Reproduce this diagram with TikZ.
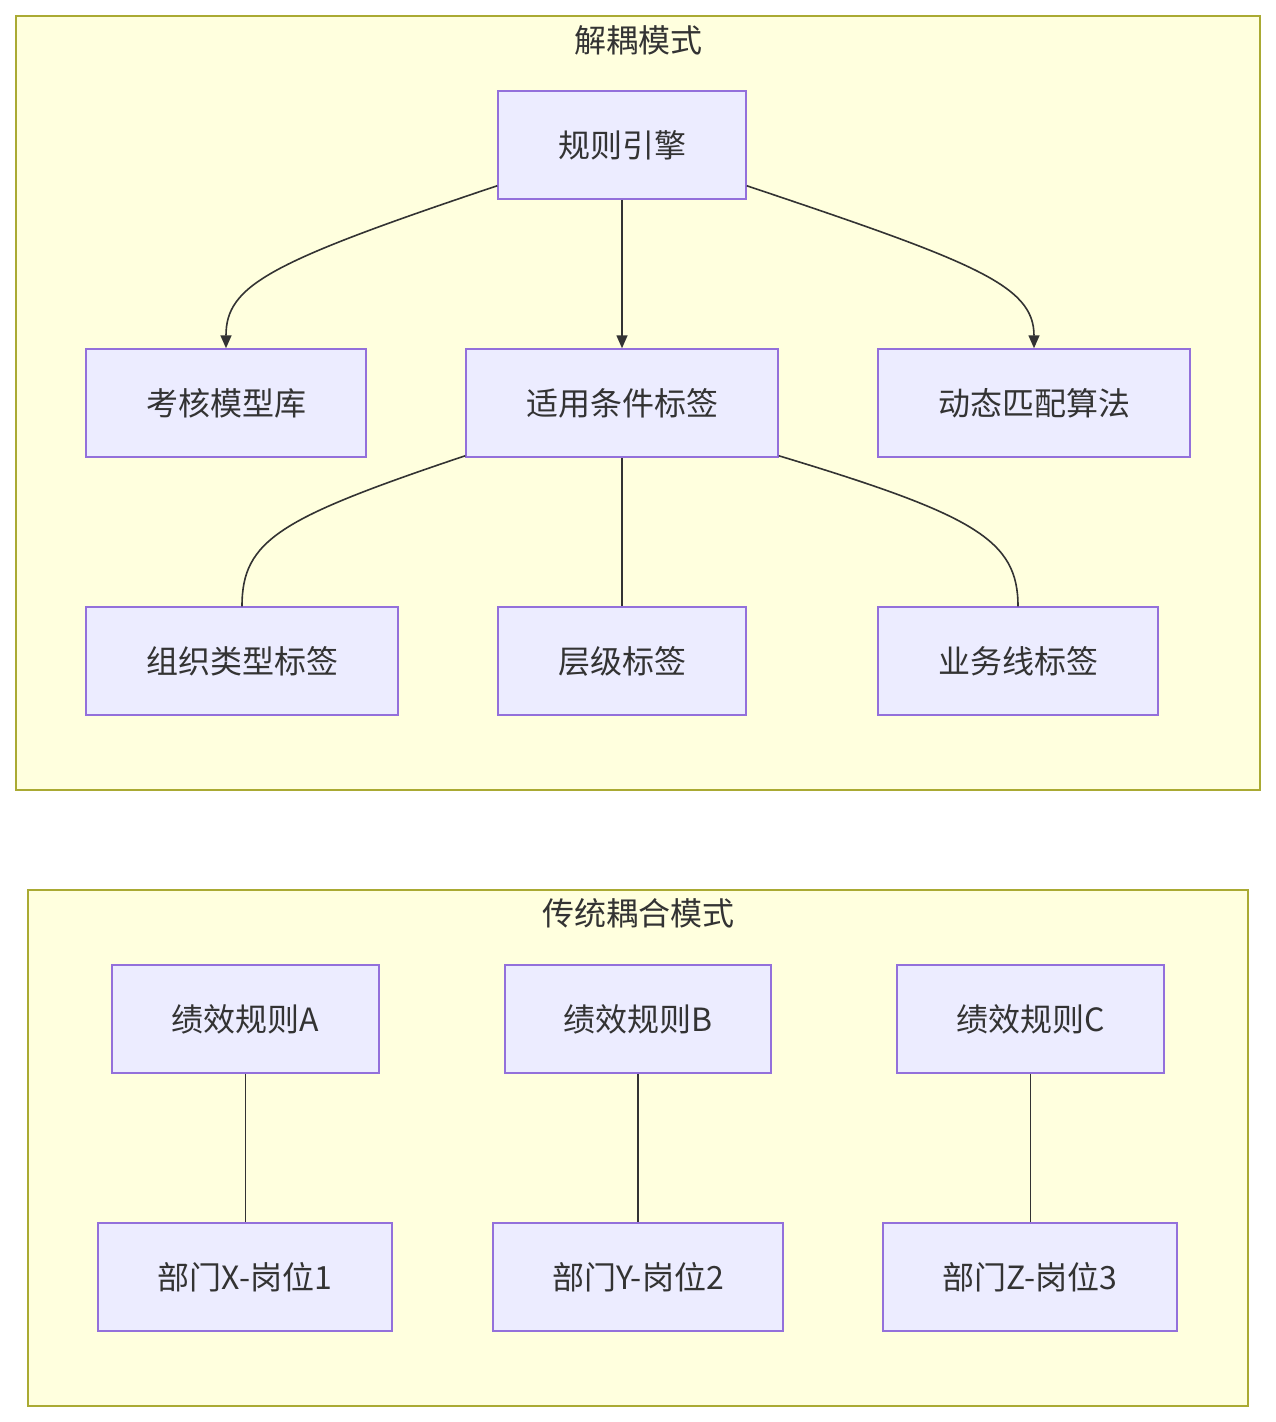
\documentclass[tikz,border=0pt]{standalone}
\usepackage{fontspec}
\setmainfont{Noto Sans CJK SC}
\usetikzlibrary{arrows.meta}
\definecolor{clfill}{HTML}{FFFFDE}
\definecolor{cldraw}{HTML}{AAAA33}
\definecolor{ndfill}{HTML}{ECECFF}
\definecolor{nddraw}{HTML}{9370DB}
\definecolor{txt}{HTML}{333333}
\begin{document}
\begin{tikzpicture}[x=1pt,y=-1pt,
  cluster/.style={draw=cldraw,fill=clfill,line width=1.5pt,inner sep=0pt},
  ctitle/.style={text=txt,font=\fontsize{32}{38}\selectfont,inner sep=0pt},
  box/.style={draw=nddraw,fill=ndfill,line width=1.5pt,inner sep=0pt,minimum height=108pt,
    text=txt,font=\fontsize{32}{38}\selectfont},
  link/.style={draw=txt,line width=1.6pt},
  arr/.style={link,-{Triangle[length=13pt,width=11pt]}}]
\useasboundingbox (0,0) rectangle (1276,1422);
\fill[white] (0,0) rectangle (1276,1422);
% clusters
\node[cluster,minimum width=1244pt,minimum height=774pt] (top) at (638,403) {};
\node[ctitle] (toptitle) at (638,40) {解耦模式};
\node[cluster,minimum width=1220pt,minimum height=516pt] (bot) at (638,1148) {};
\node[ctitle] (bottitle) at (638,913) {传统耦合模式};
% top nodes
\node[box,minimum width=248pt] (r) at (622,145) {规则引擎};
\node[box,minimum width=280pt] (m) at (226,403) {考核模型库};
\node[box,minimum width=312pt] (c) at (622,403) {适用条件标签};
\node[box,minimum width=312pt] (d) at (1034,403) {动态匹配算法};
\node[box,minimum width=312pt] (o) at (242,661) {组织类型标签};
\node[box,minimum width=248pt] (l) at (622,661) {层级标签};
\node[box,minimum width=280pt] (b) at (1018,661) {业务线标签};
% bottom nodes
\node[box,minimum width=267pt] (ra) at (245.5,1019) {绩效规则A};
\node[box,minimum width=266pt] (rb) at (638,1019) {绩效规则B};
\node[box,minimum width=267pt] (rc) at (1030.5,1019) {绩效规则C};
\node[box,minimum width=294pt] (px) at (245,1277) {部门X-岗位1};
\node[box,minimum width=290pt] (py) at (638,1277) {部门Y-岗位2};
\node[box,minimum width=294pt] (pz) at (1030,1277) {部门Z-岗位3};
% edges
\draw[arr] ([yshift=14pt]r.south west) .. controls (270,262) and (226,285) .. (m.north);
\draw[arr] (r.south) -- (c.north);
\draw[arr] ([yshift=14pt]r.south east) .. controls (974,262) and (1034,285) .. (d.north);
\draw[link] ([yshift=2pt]c.south west) .. controls (280,518) and (242,540) .. (o.north);
\draw[link] (c.south) -- (l.north);
\draw[link] ([yshift=2pt]c.south east) .. controls (975,515) and (1018,540) .. (b.north);
\draw[link] (ra.south) -- (ra.south |- px.north);
\draw[link] (rb.south) -- (py.north);
\draw[link] (rc.south) -- (rc.south |- pz.north);
\end{tikzpicture}
\end{document}
